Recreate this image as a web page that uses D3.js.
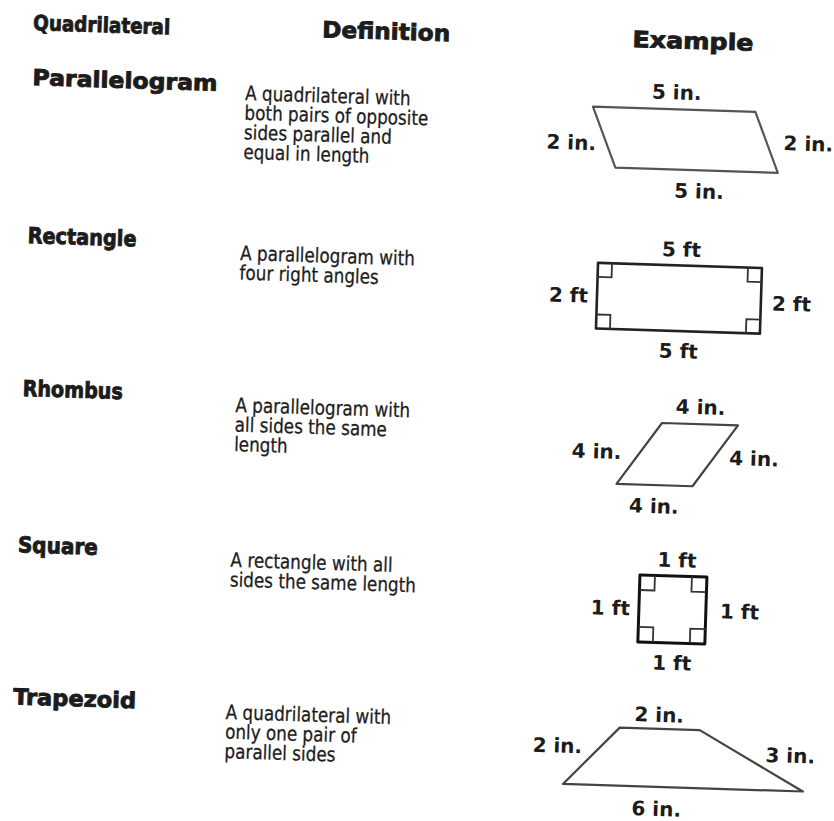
<!DOCTYPE html>
<html>
<head>
<meta charset="utf-8">
<script src="https://cdn.jsdelivr.net/npm/d3@7"></script>
<style>
  body { margin: 0; background: #fff; }
</style>
</head>
<body>
<div id="chart"></div>
<script>
// table content
const headers = ["Quadrilateral", "Definition", "Example"];
const quadNames = ["Parallelogram", "Rectangle", "Rhombus", "Square", "Trapezoid"];
const definitions = [
    ["A quadrilateral with", "both pairs of opposite", "sides parallel and", "equal in length"],
    ["A parallelogram with", "four right angles"],
    ["A parallelogram with", "all sides the same", "length"],
    ["A rectangle with all", "sides the same length"],
    ["A quadrilateral with", "only one pair of", "parallel sides"]
];
// side lengths of each example: top, right, bottom, left
const sideLengths = [[5, 2, 5, 2], [5, 2, 5, 2], [4, 4, 4, 4], [1, 1, 1, 1], [2, 3, 6, 2]];
const units = ["in.", "ft", "in.", "ft", "in."];
// direction of the left side going down from the top-left corner (degrees), null = trapezoid
const legAngles = [68, 90, 125, 90, null];

// layout
const width = 834;
const height = 821;
const tilt = 1.8; // the scanned page is slightly turned
const nameX = 35;
const defX = 248;
const lineH = 19.6;
const defSqueeze = 0.84; // the print face is narrower than the fallback font
const headerPos = [[34, 29], [323, 27], [633.5, 27]];
const headerWidths = [137, 128, 121];
const nameY = [84, 242, 395, 551.5, 703.6];
const nameWidths = [185, 109, 100, 80, 123];
const defY = [92.3, 252.3, 404.3, 559.3, 711.5];
const shapeAnchor = [[596, 88], [606, 244], [631.4, 402], [657.7, 554.6], [587.3, 707.8]];
const pxPerUnit = [32.5, 32.8, 19, 67, 40];
const shapeStroke = ["#555", "#222", "#444", "#111", "#444"];
const shapeStrokeW = [2.2, 2.6, 2.2, 3, 2.2];
const markSize = [0, 14, 0, 15, 0];
// label offsets from the middle of each side: top, right, bottom, left
const labelOffsets = [
    [[2, -10], [17, 0], [3, 28], [-8, 6]],
    [[1, -9], [11, 2], [1, 27], [-9, 0]],
    [[0, -10], [14, 1.5], [0, 28], [-18, -1]],
    [[3, -9], [14, 0], [1, 27], [-9, 0]],
    [[-1, -7], [14, -6.5], [-26, 29], [-9.5, -9.5]]
];

const font = "'DejaVu Sans', sans-serif";
const ink = "#1c1c1c";

const svg = d3
    .select("#chart")
    .append("svg")
    .attr("width", width)
    .attr("height", height);

svg.append("rect").attr("width", width).attr("height", height).attr("fill", "#fff");

const page = svg.append("g").attr("transform", `rotate(${tilt})`);

// column headers
page.selectAll(".header")
    .data(headers)
    .enter()
    .append("text")
    .attr("class", "header")
    .attr("x", (d, i) => headerPos[i][0])
    .attr("y", (d, i) => headerPos[i][1])
    .attr("textLength", (d, i) => headerWidths[i])
    .attr("lengthAdjust", "spacingAndGlyphs")
    .attr("font-family", font)
    .attr("font-weight", "bold")
    .attr("font-size", (d, i) => (i === 0 ? 21 : 22.5))
    .attr("fill", ink)
    .attr("stroke", ink)
    .attr("stroke-width", 0.9)
    .text((d) => d);

// quadrilateral names
page.selectAll(".name")
    .data(quadNames)
    .enter()
    .append("text")
    .attr("class", "name")
    .attr("x", nameX)
    .attr("y", (d, i) => nameY[i])
    .attr("textLength", (d, i) => nameWidths[i])
    .attr("lengthAdjust", "spacingAndGlyphs")
    .attr("font-family", font)
    .attr("font-weight", "bold")
    .attr("font-size", 22)
    .attr("fill", ink)
    .attr("stroke", ink)
    .attr("stroke-width", 0.9)
    .text((d) => d);

// definitions, one text per printed line
page.selectAll(".def")
    .data(definitions)
    .enter()
    .append("g")
    .attr("class", "def")
    .each(function (lines, i) {
        d3.select(this)
            .selectAll("text")
            .data(lines)
            .enter()
            .append("text")
            .attr("x", defX)
            .attr("y", (d, k) => defY[i] + k * lineH)
            .attr("font-family", font)
            .attr("font-size", 20)
            .attr("fill", ink)
            .attr("stroke", ink)
            .attr("stroke-width", 0.3)
            .text((d) => d)
            .each(function () {
                const natural = this.getComputedTextLength();
                d3.select(this)
                    .attr("textLength", natural * defSqueeze)
                    .attr("lengthAdjust", "spacingAndGlyphs");
            });
    });

// corner points of an example shape in side-length units
const shapeVertices = (i) => {
    const [top, right, bottom, left] = sideLengths[i];
    if (legAngles[i] === null) {
        const d = bottom - top;
        const a = (d * d + left * left - right * right) / (2 * d);
        const h = Math.sqrt(left * left - a * a);
        return [[a, 0], [a + top, 0], [bottom, h], [0, h]];
    }
    const r = (legAngles[i] * Math.PI) / 180;
    const dx = left * Math.cos(r);
    const dy = left * Math.sin(r);
    const off = Math.max(0, -dx);
    return [[off, 0], [off + top, 0], [off + top + dx, dy], [off + dx, dy]];
};

const unit = (a, b) => {
    const len = Math.hypot(b[0] - a[0], b[1] - a[1]);
    return [(b[0] - a[0]) / len, (b[1] - a[1]) / len];
};

const outline = d3.line().curve(d3.curveLinearClosed);
const anchors = ["middle", "start", "middle", "end"];

quadNames.forEach((name, i) => {
    const scale = d3.scaleLinear().domain([0, 1]).range([0, pxPerUnit[i]]);
    const pts = shapeVertices(i).map(([x, y]) => [scale(x), scale(y)]);

    const g = page.append("g").attr("transform", `translate(${shapeAnchor[i]})`);

    g.append("path")
        .attr("d", outline(pts))
        .attr("fill", "none")
        .attr("stroke", shapeStroke[i])
        .attr("stroke-width", shapeStrokeW[i])
        .attr("stroke-linejoin", "round");

    // right angle boxes
    if (legAngles[i] === 90) {
        const m = markSize[i];
        pts.forEach((v, k) => {
            const u1 = unit(v, pts[(k + 1) % 4]);
            const u2 = unit(v, pts[(k + 3) % 4]);
            const p = d3.path();
            p.moveTo(v[0] + m * u1[0], v[1] + m * u1[1]);
            p.lineTo(v[0] + m * (u1[0] + u2[0]), v[1] + m * (u1[1] + u2[1]));
            p.lineTo(v[0] + m * u2[0], v[1] + m * u2[1]);
            g.append("path")
                .attr("d", p.toString())
                .attr("fill", "none")
                .attr("stroke", "#333")
                .attr("stroke-width", 1.8);
        });
    }

    // side labels
    g.selectAll(".side")
        .data(sideLengths[i])
        .enter()
        .append("text")
        .attr("class", "side")
        .attr("x", (d, k) => (pts[k][0] + pts[(k + 1) % 4][0]) / 2 + labelOffsets[i][k][0])
        .attr("y", (d, k) => (pts[k][1] + pts[(k + 1) % 4][1]) / 2 + labelOffsets[i][k][1])
        .attr("dy", (d, k) => (k % 2 ? "0.36em" : 0))
        .attr("text-anchor", (d, k) => anchors[k])
        .attr("font-family", font)
        .attr("font-weight", "bold")
        .attr("font-size", 20)
        .attr("fill", ink)
        .text((d) => `${d} ${units[i]}`);
});
</script>
</body>
</html>
